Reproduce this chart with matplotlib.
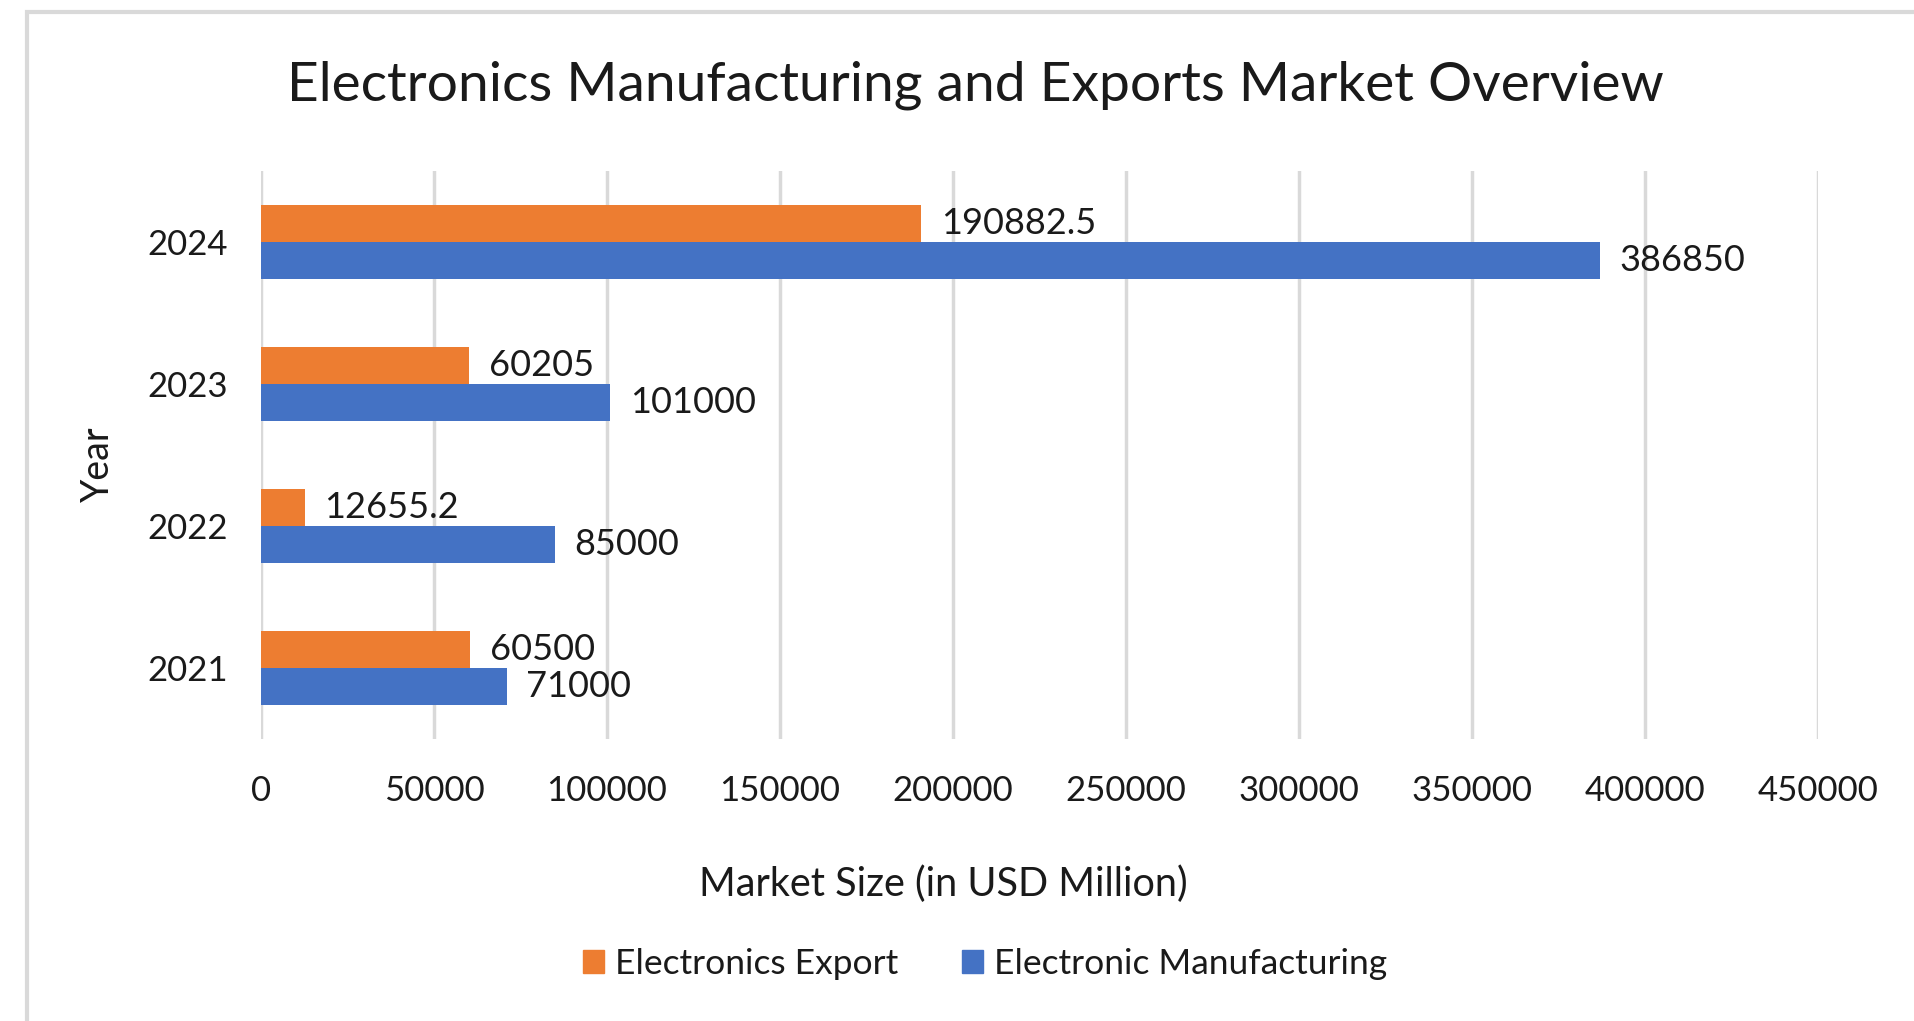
import matplotlib.pyplot as plt
from matplotlib.patches import Rectangle, Patch

# --- Data ---
years = ['2021', '2022', '2023', '2024']
export_vals = [60500, 12655.2, 60205, 190882.5]
manuf_vals = [71000, 85000, 101000, 386850]
export_labels = ['60500', '12655.2', '60205', '190882.5']
manuf_labels = ['71000', '85000', '101000', '386850']
x_ticks = [0, 50000, 100000, 150000, 200000, 250000, 300000, 350000, 400000, 450000]

orange = '#ED7D31'
blue = '#4472C4'
txt = '#1a1a1a'

plt.rcParams['font.family'] = ['Lato', 'DejaVu Sans']

fig = plt.figure(figsize=(19.14, 10.21), dpi=100)
ax = fig.add_axes([261 / 1914, 1 - 739 / 1021, (1818 - 261) / 1914, (739 - 171) / 1021])

# chart frame (runs off right / bottom edge like the screenshot)
fig.patches.append(Rectangle((27 / 1914, -0.2), 2, 1.2 - 12 / 1021, transform=fig.transFigure,
                             fill=False, edgecolor='#d9d9d9', lw=3, zorder=0))

# --- Bars ---
pos = list(range(len(years)))
h = 0.26
b1 = ax.barh([p + h / 2 for p in pos], export_vals, height=h, color=orange, label='Electronics Export', zorder=3)
b2 = ax.barh([p - h / 2 for p in pos], manuf_vals, height=h, color=blue, label='Electronic Manufacturing', zorder=3)

ax.bar_label(b1, labels=export_labels, padding=14, fontsize=26, color=txt)
ax.bar_label(b2, labels=manuf_labels, padding=14, fontsize=26, color=txt)

ax.set_xlim(0, 450000)
ax.set_ylim(-0.5, 3.5)
ax.set_xticks(x_ticks)
ax.set_xticklabels([str(v) for v in x_ticks])
ax.set_yticks(pos)
ax.set_yticklabels(years)
ax.tick_params(axis='both', length=0, labelsize=25, labelcolor=txt)
ax.tick_params(axis='x', pad=26)
ax.tick_params(axis='y', pad=24)
ax.grid(axis='x', color='#d9d9d9', lw=2.5, zorder=0)
for s in ax.spines.values():
    s.set_visible(False)

# --- Titles / labels ---
fig.text(975 / 1914, 1 - 85 / 1021, 'Electronics Manufacturing and Exports Market Overview',
         ha='center', va='center', fontsize=39.7, color=txt)
fig.text(943 / 1914, 1 - 884 / 1021, 'Market Size (in USD Million)',
         ha='center', va='center', fontsize=28.5, color=txt)
fig.text(98 / 1914, 1 - 464 / 1021, 'Year', ha='center', va='center', rotation=90,
         fontsize=27, color=txt)

# --- Legend ---
handles = [Patch(color=orange), Patch(color=blue)]
fig.legend(handles, ['Electronics Export', 'Electronic Manufacturing'], loc='center',
           bbox_to_anchor=(985 / 1914, 1 - 964 / 1021), ncol=2, frameon=False, fontsize=25.5,
           handlelength=0.6, handleheight=0.6, handletextpad=0.3, columnspacing=1.8,
           labelcolor=txt)

fig.savefig('out.png', dpi=100)
